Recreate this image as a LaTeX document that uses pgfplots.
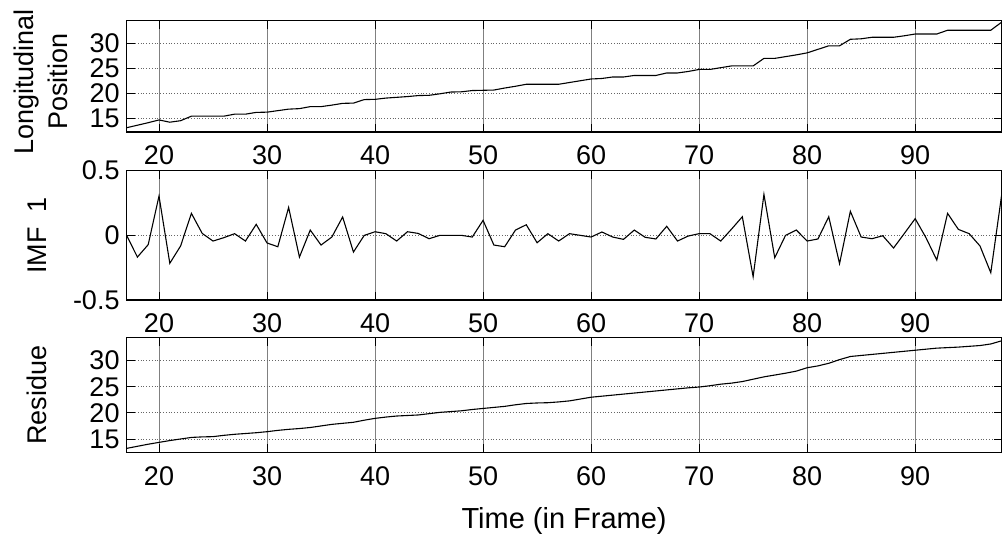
\documentclass[border=0pt]{standalone}
\usepackage{fontspec}
\setmainfont{Liberation Sans}
\usepackage{pgfplots}
\pgfplotsset{compat=1.18}

\pgfplotsset{
  matlab panel/.style={
    scale only axis,
    width=437.5pt,
    xmin=17, xmax=98,
    xtick={20,30,40,50,60,70,80,90},
    tick align=inside,
    major tick length=4pt,
    tick style={draw=black, line width=0.4pt},
    axis line style={draw=black, line width=0.7pt},
    xmajorgrids, ymajorgrids,
    x grid style={draw=black!50, line width=0.4pt},
    y grid style={draw=black!60, line width=0.4pt, densely dotted},
    tick label style={font=\fontsize{13.5}{16}\selectfont},
    x tick label style={yshift=-3.5pt},
    /pgf/number format/assume math mode=true,
    label style={font=\fontsize{13.5}{17}\selectfont},
    ylabel style={anchor=south, align=center},
  },
  sig/.style={draw=black, line width=0.55pt, mark=none},
}

\begin{document}
\begin{tikzpicture}
\useasboundingbox (0,0) rectangle (501.5pt,-268pt);

% signal
\begin{axis}[matlab panel,
    at={(63.3pt,-10.35pt)}, anchor=north west,
    height=55.65pt,
    ymin=12.35, ymax=34.5,
    ytick={15,20,25,30},
    ylabel={Longitudinal\\Position},
    ylabel style={at={(axis description cs:-0.059,0.45)}},
]
\addplot[sig] coordinates {
(17,13.2) (18,13.7) (19,14.2) (20,14.75) (21,14.3) (22,14.6) (23,15.5) (24,15.5)
(25,15.5) (26,15.5) (27,15.9) (28,15.9) (29,16.25) (30,16.3) (31,16.6) (32,16.9)
(33,17.0) (34,17.4) (35,17.4) (36,17.7) (37,18.05) (38,18.1) (39,18.8) (40,18.85)
(41,19.1) (42,19.25) (43,19.4) (44,19.6) (45,19.65) (46,19.95) (47,20.3) (48,20.35)
(49,20.6) (50,20.65) (51,20.7) (52,21.1) (53,21.45) (54,21.85) (55,21.85) (56,21.85)
(57,21.85) (58,22.2) (59,22.55) (60,22.9) (61,23.0) (62,23.3) (63,23.3) (64,23.6)
(65,23.6) (66,23.6) (67,24.1) (68,24.1) (69,24.4) (70,24.8) (71,24.8) (72,25.15)
(73,25.5) (74,25.5) (75,25.5) (76,27.0) (77,27.0) (78,27.35) (79,27.7) (80,28.1)
(81,28.8) (82,29.5) (83,29.5) (84,30.8) (85,30.9) (86,31.2) (87,31.2) (88,31.2)
(89,31.5) (90,31.85) (91,31.85) (92,31.85) (93,32.6) (94,32.6) (95,32.6) (96,32.6)
(97,32.6) (98,34.2)
};
\end{axis}

% IMF 1
\begin{axis}[matlab panel,
    at={(63.3pt,-85.35pt)}, anchor=north west,
    height=64.65pt,
    ymin=-0.5, ymax=0.5,
    ytick={-0.5,0,0.5},
    yticklabels={-0.5,0,0.5},
    ylabel={IMF\ \ 1},
    ylabel style={at={(axis description cs:-0.083,0.5)}},
]
\addplot[sig] coordinates {
(17,0) (18,-0.168) (19,-0.072) (20,0.304) (21,-0.216) (22,-0.082) (23,0.170) (24,0.015)
(25,-0.044) (26,-0.018) (27,0.013) (28,-0.044) (29,0.085) (30,-0.059) (31,-0.088) (32,0.216)
(33,-0.168) (34,0.041) (35,-0.075) (36,-0.013) (37,0.142) (38,-0.129) (39,0) (40,0.028)
(41,0.013) (42,-0.044) (43,0.028) (44,0.015) (45,-0.026) (46,0) (47,0) (48,0)
(49,-0.013) (50,0.116) (51,-0.075) (52,-0.088) (53,0.041) (54,0.082) (55,-0.057) (56,0.013)
(57,-0.044) (58,0.013) (59,0) (60,-0.013) (61,0.026) (62,-0.013) (63,-0.031) (64,0.041)
(65,-0.015) (66,-0.028) (67,0.070) (68,-0.044) (69,-0.005) (70,0.013) (71,0.013) (72,-0.044)
(73,0.048) (74,0.144) (75,-0.320) (76,0.317) (77,-0.173) (78,0) (79,0.041) (80,-0.044)
(81,-0.028) (82,0.144) (83,-0.219) (84,0.186) (85,-0.013) (86,-0.026) (87,-0.003) (88,-0.098)
(89,0.015) (90,0.129) (91,-0.018) (92,-0.191) (93,0.170) (94,0.046) (95,0.013) (96,-0.082)
(97,-0.289) (98,0.309)
};
\end{axis}

% residue
\begin{axis}[matlab panel,
    at={(63.3pt,-168.85pt)}, anchor=north west,
    height=57.3pt,
    ymin=12.45, ymax=34.4,
    ytick={15,20,25,30},
    ylabel={Residue},
    ylabel style={at={(axis description cs:-0.083,0.5)}},
    xlabel={Time (in Frame)},
    xlabel style={at={(axis description cs:0.5,-0.42)}, anchor=north,
                  font=\fontsize{14.5}{17}\selectfont},
]
\addplot[sig] coordinates {
(17,13.2) (18,13.6) (19,14.0) (20,14.35) (21,14.7) (22,15.0) (23,15.3) (24,15.4)
(25,15.45) (26,15.7) (27,15.9) (28,16.05) (29,16.2) (30,16.4) (31,16.65) (32,16.85)
(33,17.0) (34,17.2) (35,17.5) (36,17.8) (37,18.0) (38,18.2) (39,18.6) (40,18.95)
(41,19.2) (42,19.4) (43,19.5) (44,19.6) (45,19.85) (46,20.1) (47,20.25) (48,20.4)
(49,20.65) (50,20.85) (51,21.05) (52,21.25) (53,21.55) (54,21.8) (55,21.9) (56,21.95)
(57,22.1) (58,22.3) (59,22.65) (60,23.0) (61,23.2) (62,23.4) (63,23.6) (64,23.8)
(65,24.0) (66,24.2) (67,24.4) (68,24.6) (69,24.8) (70,24.95) (71,25.2) (72,25.5)
(73,25.7) (74,26.0) (75,26.45) (76,26.9) (77,27.25) (78,27.6) (79,28.0) (80,28.65)
(81,29.0) (82,29.5) (83,30.2) (84,30.8) (85,31.0) (86,31.2) (87,31.4) (88,31.6)
(89,31.8) (90,32.0) (91,32.2) (92,32.4) (93,32.5) (94,32.6) (95,32.75) (96,32.9)
(97,33.2) (98,33.8)
};
\end{axis}
\end{tikzpicture}
\end{document}
